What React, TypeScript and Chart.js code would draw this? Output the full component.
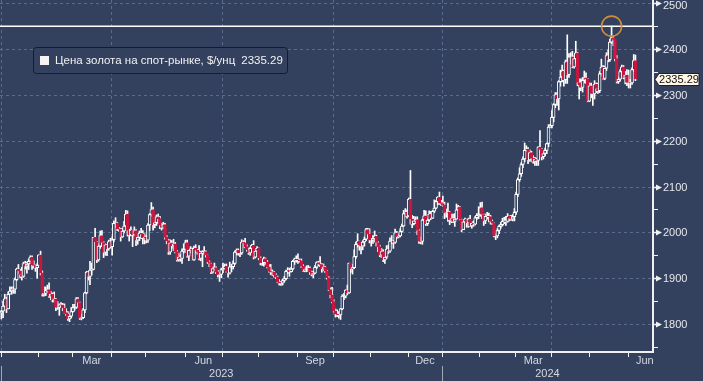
import { useEffect, useRef } from "react";
import { Chart, registerables } from "chart.js";

Chart.register(...registerables);

// Daily candles, [high, low, close]; open = previous close
const firstOpen = 1824;
const jan2023 = [[1830,1811,1828],[1850,1814,1839],[1865,1836,1855],[1858,1825,1833],[1870,1833,1865],[1881,1865,1872],[1881,1865,1877],[1881,1867,1876],[1901,1867,1897],[1922,1895,1920],[1930,1910,1916],[1920,1901,1908],[1924,1896,1904],[1935,1902,1932],[1937,1920,1926],[1935,1911,1931],[1942,1919,1937],[1949,1932,1946],[1949,1919,1929],[1938,1922,1928],[1929,1915,1923],[1932,1900,1928]];
const feb2023 = [[1951,1926,1951],[1959,1907,1912],[1916,1861,1865],[1881,1861,1867],[1881,1862,1873],[1885,1869,1875],[1890,1858,1861],[1871,1853,1865],[1868,1848,1853],[1870,1848,1855],[1856,1829,1836],[1849,1832,1836],[1844,1819,1842],[1847,1837,1841],[1845,1829,1835],[1844,1824,1825],[1834,1818,1822],[1827,1808,1811],[1822,1805,1817],[1836,1813,1827]];
const mar2023 = [[1843,1826,1836],[1843,1830,1836],[1858,1834,1855],[1858,1845,1847],[1848,1810,1813],[1821,1809,1814],[1834,1812,1831],[1870,1825,1868],[1915,1866,1913],[1915,1896,1904],[1937,1886,1918],[1933,1907,1919],[1989,1918,1989],[2009,1971,1979],[1980,1934,1940],[1975,1937,1970],[2003,1965,1993],[2004,1969,1978],[1980,1945,1956],[1975,1950,1973],[1974,1949,1964],[1983,1961,1980],[1987,1966,1969]];
const apr2023 = [[1990,1950,1984],[2025,1979,2020],[2032,2010,2021],[2022,2004,2008],[2011,2002,2007],[2009,1981,1990],[2009,1989,2003],[2024,1999,2014],[2048,2013,2040],[2047,1992,2004],[2007,1981,1995],[2012,1992,2005],[2005,1969,1995],[2012,1992,2004],[2006,1971,1983],[1995,1974,1989],[2003,1982,1998],[2009,1986,1996],[2004,1975,1988],[1997,1975,1990]];
const may2023 = [[1993,1977,1983],[2019,1978,2016],[2041,2004,2039],[2065,2035,2050],[2055,2005,2017],[2025,2010,2021],[2038,2015,2034],[2040,2019,2030],[2035,2008,2015],[2020,2005,2011],[2022,2008,2017],[2020,1985,1989],[1993,1975,1982],[1985,1952,1957],[1984,1952,1977],[1982,1965,1971],[1985,1960,1975],[1978,1955,1958],[1961,1937,1940],[1955,1937,1946],[1951,1937,1943],[1964,1932,1959],[1975,1955,1963]];
const jun2023 = [[1983,1956,1978],[1983,1946,1948],[1964,1938,1961],[1969,1955,1963],[1966,1940,1940],[1970,1939,1965],[1973,1956,1961],[1963,1952,1957],[1971,1940,1943],[1959,1938,1955],[1960,1925,1958],[1969,1952,1958],[1960,1946,1951],[1951,1932,1936],[1938,1925,1932],[1933,1910,1913],[1925,1911,1921],[1933,1917,1923],[1925,1910,1914],[1917,1903,1907],[1912,1893,1908],[1922,1901,1919]];
const jul2023 = [[1933,1912,1921],[1931,1920,1926],[1931,1913,1915],[1916,1902,1911],[1935,1909,1925],[1930,1914,1925],[1938,1920,1932],[1960,1930,1957],[1964,1951,1961],[1964,1950,1955],[1959,1947,1955],[1984,1952,1979],[1982,1968,1977],[1987,1966,1969],[1973,1959,1962],[1966,1952,1955],[1968,1950,1965],[1974,1958,1972],[1982,1942,1946],[1961,1944,1959],[1969,1957,1965]];
const aug2023 = [[1966,1940,1944],[1947,1929,1934],[1939,1928,1934],[1946,1926,1943],[1944,1930,1936],[1939,1922,1925],[1930,1913,1915],[1930,1908,1913],[1918,1906,1914],[1915,1902,1907],[1910,1899,1902],[1905,1890,1892],[1897,1885,1889],[1893,1884,1889],[1898,1885,1895],[1904,1891,1899],[1918,1896,1915],[1923,1910,1917],[1922,1904,1914],[1924,1913,1920],[1939,1918,1937],[1944,1930,1942],[1949,1935,1940]];
const sep2023 = [[1953,1932,1940],[1942,1935,1938],[1942,1923,1926],[1930,1915,1916],[1923,1914,1919],[1927,1914,1919],[1928,1915,1922],[1925,1908,1913],[1916,1905,1908],[1915,1901,1911],[1928,1910,1924],[1936,1921,1934],[1937,1927,1931],[1947,1925,1930],[1932,1913,1920],[1931,1916,1925],[1926,1912,1916],[1917,1898,1901],[1904,1873,1875],[1879,1857,1864],[1880,1846,1849]];
const oct2023 = [[1853,1826,1828],[1833,1815,1822],[1831,1816,1821],[1827,1813,1820],[1834,1810,1833],[1864,1831,1861],[1867,1853,1861],[1875,1857,1874],[1885,1864,1868],[1933,1867,1933],[1932,1913,1920],[1930,1909,1923],[1962,1921,1947],[1979,1943,1974],[1997,1968,1981],[1981,1961,1973],[1976,1953,1970],[1982,1962,1979],[1990,1970,1985],[2009,1982,2006],[2009,1991,1996],[2008,1977,1983]];
const nov2023 = [[1987,1970,1983],[1993,1976,1986],[2003,1979,1992],[1994,1970,1978],[1980,1958,1969],[1972,1947,1950],[1965,1945,1958],[1962,1936,1940],[1948,1932,1946],[1971,1943,1963],[1972,1954,1959],[1988,1956,1981],[1993,1975,1981],[1982,1965,1978],[2007,1976,1999],[2002,1987,1990],[1997,1988,1992],[2008,1990,2002],[2018,2001,2014],[2048,2013,2041],[2052,2035,2044],[2049,2031,2036]];
const dec2023 = [[2075,2034,2072],[2135,2018,2029],[2037,2010,2019],[2035,2016,2025],[2034,2019,2028],[2034,1995,2004],[2006,1976,1981],[1990,1975,1980],[2029,1974,2027],[2048,2026,2036],[2047,2015,2019],[2030,2015,2027],[2047,2024,2040],[2046,2028,2031],[2048,2030,2046],[2071,2043,2053],[2070,2051,2067],[2078,2060,2077],[2088,2061,2065],[2070,2058,2063]];
const jan2024 = [[2079,2057,2059],[2066,2030,2042],[2051,2033,2043],[2064,2024,2045],[2046,2017,2027],[2040,2021,2030],[2040,2021,2024],[2041,2013,2029],[2062,2029,2049],[2059,2048,2056],[2057,2027,2028],[2029,2001,2006],[2025,2006,2023],[2031,2021,2029],[2029,2011,2021],[2031,2011,2029],[2037,2013,2014],[2023,2009,2020],[2025,2013,2018],[2035,2016,2032],[2041,2028,2037],[2056,2030,2039]];
const feb2024 = [[2065,2035,2054],[2066,2030,2039],[2040,2015,2025],[2040,2019,2035],[2044,2029,2035],[2042,2023,2034],[2037,2018,2024],[2027,2017,2020],[2021,1990,1992],[1997,1984,1992],[2008,1988,2004],[2016,1997,2013],[2022,2009,2017],[2031,2014,2024],[2033,2019,2025],[2035,2015,2024],[2041,2022,2035],[2036,2025,2031],[2037,2026,2029],[2039,2025,2034],[2052,2025,2044]];
const mar2024 = [[2088,2039,2083],[2119,2078,2115],[2141,2111,2128],[2152,2122,2148],[2165,2141,2160],[2195,2154,2179],[2189,2176,2182],[2185,2150,2158],[2180,2155,2174],[2177,2154,2162],[2167,2151,2155],[2164,2146,2160],[2162,2146,2157],[2187,2146,2186],[2222,2177,2181],[2183,2158,2165],[2176,2160,2172],[2184,2167,2179],[2195,2172,2194],[2235,2187,2230],[2236,2229,2233]];
const apr2024 = [[2266,2228,2251],[2281,2241,2279],[2305,2272,2300],[2305,2277,2291],[2331,2267,2329],[2354,2319,2339],[2365,2328,2352],[2354,2319,2333],[2376,2325,2372],[2431,2325,2344],[2390,2338,2383],[2392,2367,2383],[2395,2359,2361],[2385,2358,2379],[2417,2369,2392],[2393,2320,2327],[2335,2291,2322],[2335,2309,2316],[2338,2306,2332],[2352,2326,2337],[2348,2325,2335],[2336,2285,2286]];
const may2024 = [[2326,2285,2320],[2326,2294,2303],[2319,2277,2302],[2331,2291,2323],[2326,2305,2314],[2326,2303,2309],[2351,2305,2346],[2378,2340,2360],[2364,2334,2336],[2363,2333,2358],[2392,2353,2386],[2398,2372,2377],[2422,2373,2415],[2450,2412,2425],[2428,2407,2421],[2421,2374,2379],[2386,2326,2329],[2339,2325,2334],[2355,2330,2351],[2365,2340,2361],[2364,2335,2338],[2351,2324,2343],[2355,2320,2327]];
const jun2024 = [[2354,2315,2327],[2334,2315,2326],[2359,2323,2355],[2388,2351,2375],[2387,2331,2335.29]];

const monthNames = ["Jan","Feb","Mar","Apr","May","Jun","Jul","Aug","Sep","Oct","Nov","Dec"];
const months = [
  { m: 0, year: 2023, rows: jan2023 }, { m: 1, year: 2023, rows: feb2023 }, { m: 2, year: 2023, rows: mar2023 },
  { m: 3, year: 2023, rows: apr2023 }, { m: 4, year: 2023, rows: may2023 }, { m: 5, year: 2023, rows: jun2023 },
  { m: 6, year: 2023, rows: jul2023 }, { m: 7, year: 2023, rows: aug2023 }, { m: 8, year: 2023, rows: sep2023 },
  { m: 9, year: 2023, rows: oct2023 }, { m: 10, year: 2023, rows: nov2023 }, { m: 11, year: 2023, rows: dec2023 },
  { m: 0, year: 2024, rows: jan2024 }, { m: 1, year: 2024, rows: feb2024 }, { m: 2, year: 2024, rows: mar2024 },
  { m: 3, year: 2024, rows: apr2024 }, { m: 4, year: 2024, rows: may2024 }, { m: 5, year: 2024, rows: jun2024 },
];
const lastMonthFullLength = 20; // trading days in June 2024
const labelledMonths = [2, 5, 8, 11]; // Mar, Jun, Sep, Dec
const gridMonths = [0, 3, 6, 9];
const yTicks = [1800, 1900, 2000, 2100, 2200, 2300, 2400, 2500];
const yMinorTicks = [1750, 1850, 1950, 2050, 2150, 2250, 2350, 2450];
const resistanceLevel = 2450;
const lastPrice = 2335.29;
const legendLabel = "Цена золота на спот-рынке, $/унц";
const X_MIN = -0.8, X_MAX = 382.3, Y_MIN = 1739, Y_MAX = 2507;

const BG = "#33415E";
const GRID = "#5B6B8B";
const RED = "#C9163F";
const WHITE = "#FFFFFF";
const TEXT = "#E6E8EC";
const FONT = "11px 'Liberation Sans', Arial, sans-serif";

type Candle = { i: number; o: number; h: number; l: number; c: number };
const candles: Candle[] = [];
const monthStarts: { start: number; len: number; m: number; year: number }[] = [];
{
  let prev = firstOpen;
  let idx = 0;
  months.forEach((mo) => {
    monthStarts.push({ start: idx, len: mo.rows.length, m: mo.m, year: mo.year });
    mo.rows.forEach((r) => {
      candles.push({ i: idx, o: prev, h: r[0], l: r[1], c: r[2] });
      prev = r[2];
      idx++;
    });
  });
}
const peak = candles.reduce((a, b) => (b.h > a.h ? b : a));

const overlay = {
  id: "bbgOverlay",
  beforeDraw(chart: any) {
    const { ctx, width, height } = chart;
    ctx.save();
    ctx.fillStyle = BG;
    ctx.fillRect(0, 0, width, height);
    ctx.restore();
  },
  beforeDatasetsDraw(chart: any) {
    const { ctx, chartArea: a, scales } = chart;
    const x = scales.x, y = scales.y;
    ctx.save();
    ctx.strokeStyle = GRID;
    ctx.lineWidth = 1;
    ctx.setLineDash([3, 3]);
    yTicks.forEach((v) => {
      const py = Math.round(y.getPixelForValue(v)) + 0.5;
      ctx.beginPath(); ctx.moveTo(a.left, py); ctx.lineTo(a.right, py); ctx.stroke();
    });
    monthStarts.forEach((ms) => {
      if (!gridMonths.includes(ms.m)) return;
      const px = Math.max(1.5, Math.round(x.getPixelForValue(ms.start - 0.5)) + 0.5);
      ctx.beginPath(); ctx.moveTo(px, a.top); ctx.lineTo(px, a.bottom); ctx.stroke();
    });
    ctx.restore();
  },
  afterDatasetsDraw(chart: any) {
    const { ctx, chartArea: a, scales } = chart;
    const x = scales.x, y = scales.y;
    ctx.save();
    // resistance line
    const ry = y.getPixelForValue(resistanceLevel);
    ctx.strokeStyle = WHITE; ctx.lineWidth = 1.5;
    ctx.beginPath(); ctx.moveTo(a.left, ry); ctx.lineTo(a.right, ry); ctx.stroke();
    // circle at the peak
    ctx.strokeStyle = "#D08C3C"; ctx.lineWidth = 1.6;
    ctx.beginPath(); ctx.arc(x.getPixelForValue(peak.i), ry, 10, 0, Math.PI * 2); ctx.stroke();

    // axes
    ctx.strokeStyle = "#F0F0F0"; ctx.lineWidth = 2;
    ctx.beginPath(); ctx.moveTo(a.right, a.top); ctx.lineTo(a.right, a.bottom + 1); ctx.stroke();
    ctx.beginPath(); ctx.moveTo(a.left, a.bottom); ctx.lineTo(a.right, a.bottom); ctx.stroke();

    // y ticks and labels
    ctx.font = FONT; ctx.fillStyle = TEXT; ctx.textAlign = "left"; ctx.textBaseline = "middle";
    ctx.lineWidth = 1;
    yMinorTicks.forEach((v) => {
      const py = Math.round(y.getPixelForValue(v)) + 0.5;
      if (py > a.bottom || py < a.top) return;
      ctx.strokeStyle = "#F0F0F0";
      ctx.beginPath(); ctx.moveTo(a.right, py); ctx.lineTo(a.right + 5, py); ctx.stroke();
    });
    yTicks.forEach((v) => {
      const py = Math.round(y.getPixelForValue(v)) + 0.5;
      ctx.fillStyle = "#F0F0F0";
      ctx.beginPath(); ctx.moveTo(a.right, py - 0.8); ctx.lineTo(a.right + 3, py - 0.8);
      ctx.lineTo(a.right + 3, py - 3); ctx.lineTo(a.right + 9, py); ctx.lineTo(a.right + 3, py + 3);
      ctx.lineTo(a.right + 3, py + 0.8); ctx.lineTo(a.right, py + 0.8); ctx.closePath(); ctx.fill();
      ctx.fillStyle = TEXT;
      ctx.fillText(String(v), a.right + 10, Math.max(py, 6));
    });

    // last price tag
    const ly = Math.round(y.getPixelForValue(lastPrice)) + 0.5;
    const tx0 = a.right + 2, tx1 = a.right + 46;
    ctx.beginPath();
    ctx.moveTo(tx0, ly); ctx.lineTo(tx0 + 4, ly - 6); ctx.lineTo(tx1, ly - 6);
    ctx.lineTo(tx1, ly + 6); ctx.lineTo(tx0 + 4, ly + 6); ctx.closePath();
    ctx.fillStyle = "#FFF6E6"; ctx.fill();
    ctx.strokeStyle = "#1A1F2B"; ctx.lineWidth = 1; ctx.stroke();
    ctx.fillStyle = "#111111"; ctx.textAlign = "center";
    ctx.fillText(lastPrice.toFixed(2), (tx0 + 4 + tx1) / 2, ly + 0.5);

    // x ticks and labels
    ctx.strokeStyle = "#F0F0F0"; ctx.lineWidth = 1;
    ctx.fillStyle = "#D4D8E0"; ctx.textAlign = "center"; ctx.textBaseline = "middle";
    monthStarts.forEach((ms, k) => {
      const px = Math.max(1.5, Math.round(x.getPixelForValue(ms.start - 0.5)) + 0.5);
      ctx.beginPath(); ctx.moveTo(px, a.bottom); ctx.lineTo(px, a.bottom + 5); ctx.stroke();
      if (labelledMonths.includes(ms.m)) {
        const len = k === monthStarts.length - 1 ? lastMonthFullLength : ms.len;
        const cx = x.getPixelForValue(ms.start - 0.5 + len / 2);
        ctx.fillText(monthNames[ms.m], cx, a.bottom + 9);
      }
    });
    // years
    const years = Array.from(new Set(monthStarts.map((m) => m.year)));
    ctx.strokeStyle = "#A0A8B8";
    years.forEach((yr, k) => {
      const first = monthStarts.find((m) => m.year === yr)!;
      const next = years[k + 1] !== undefined ? monthStarts.find((m) => m.year === years[k + 1])! : null;
      const x0 = Math.max(a.left, x.getPixelForValue(first.start - 0.5));
      const x1 = next ? x.getPixelForValue(next.start - 0.5) : a.right;
      const sx = Math.max(1.5, Math.round(x0) + 0.5);
      ctx.beginPath(); ctx.moveTo(sx, a.bottom + 14); ctx.lineTo(sx, chart.height); ctx.stroke();
      ctx.fillStyle = "#D4D8E0";
      ctx.fillText(String(yr), (x0 + x1) / 2, a.bottom + 22);
    });

    // legend box
    const lx = 33.5, lyy = 47.5, lw = 254, lh = 26;
    ctx.beginPath();
    if (ctx.roundRect) ctx.roundRect(lx, lyy, lw, lh, 3); else ctx.rect(lx, lyy, lw, lh);
    ctx.fillStyle = BG; ctx.fill();
    ctx.strokeStyle = "#161C28"; ctx.lineWidth = 1; ctx.stroke();
    ctx.fillStyle = "#F8F4F4";
    ctx.fillRect(40, 56, 9, 9);
    ctx.font = "11.5px 'Liberation Sans', Arial, sans-serif";
    ctx.fillStyle = "#F2F2F2"; ctx.textAlign = "left"; ctx.textBaseline = "middle";
    ctx.fillText(legendLabel, 55, 61);
    const tw = ctx.measureText(legendLabel).width;
    ctx.fillText(lastPrice.toFixed(2), 55 + tw + 6, 61);
    ctx.restore();
  },
};

export default function App() {
  const ref = useRef<HTMLCanvasElement>(null);
  useEffect(() => {
    const canvas = ref.current;
    if (!canvas) return;
    const up = (c: Candle) => c.c >= c.o;
    const chart = new Chart(canvas, {
      type: "bar",
      data: {
        datasets: [
          {
            label: "wicks",
            data: candles.map((c) => ({ x: c.i, y: [c.l, c.h] })) as any,
            backgroundColor: WHITE,
            barThickness: 1,
            grouped: false,
            order: 2,
          } as any,
          {
            label: "bodies",
            data: candles.map((c) => ({ x: c.i, y: [c.o, c.c] })) as any,
            backgroundColor: candles.map((c) => (up(c) ? BG : RED)),
            borderColor: candles.map((c) => (up(c) ? WHITE : RED)),
            borderWidth: 1,
            borderSkipped: false,
            barThickness: 3,
            grouped: false,
            order: 1,
          } as any,
        ],
      },
      options: {
        responsive: false,
        animation: false,
        devicePixelRatio: 1,
        layout: { padding: { left: 0, top: 0, right: 50, bottom: 29 } },
        plugins: { legend: { display: false }, tooltip: { enabled: false } },
        scales: {
          x: { type: "linear", min: X_MIN, max: X_MAX, display: false, offset: false },
          y: { type: "linear", min: Y_MIN, max: Y_MAX, display: false },
        },
      },
      plugins: [overlay],
    });
    return () => chart.destroy();
  }, []);
  return (
    <div style={{ position: "fixed", left: 0, top: 0, width: 703, height: 381, background: BG }}>
      <canvas ref={ref} width={703} height={381} style={{ display: "block", width: 703, height: 381 }} />
    </div>
  );
}
